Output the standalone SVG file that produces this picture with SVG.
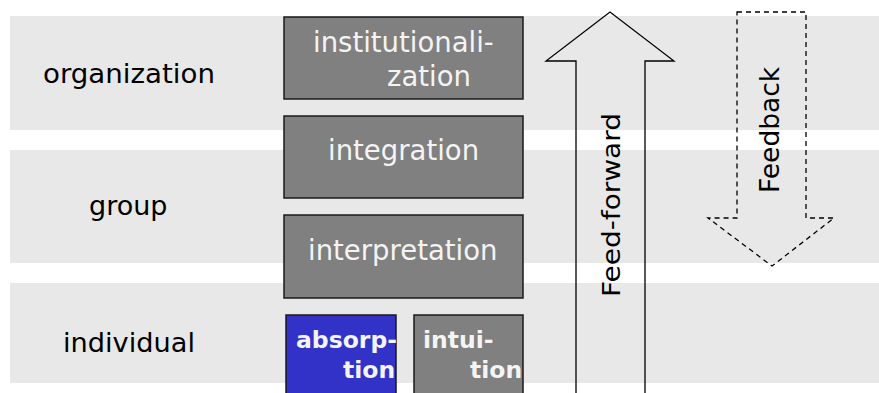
<svg xmlns="http://www.w3.org/2000/svg" width="879" height="393" viewBox="0 0 879 393">
<style>
.band{fill:#e8e8e8}
.lbl{font-family:"DejaVu Sans",Verdana,sans-serif;font-size:27px;fill:#000}
.box{fill:#808080;stroke:#1a1a1a;stroke-width:1.5}
.bt{font-family:"DejaVu Sans",Verdana,sans-serif;font-size:27.5px;fill:#f4f4f4}
.bb{font-family:"DejaVu Sans",Verdana,sans-serif;font-size:23.5px;font-weight:bold;fill:#f4f4f4}
.arr{fill:none;stroke:#000;stroke-width:1.3}
.dash{fill:none;stroke:#000;stroke-width:1.3;stroke-dasharray:5,4}
.at{font-family:"DejaVu Sans",Verdana,sans-serif;font-size:25.5px;fill:#000}
</style>
<rect width="879" height="393" fill="#fff"/>
<g id="bands">
<rect class="band" x="10" y="16" width="869" height="114"/>
<rect class="band" x="10" y="150" width="869" height="113"/>
<rect class="band" x="10" y="283" width="869" height="100"/>
</g>
<g id="level-organization"><text class="lbl" x="43" y="83" textLength="172" lengthAdjust="spacingAndGlyphs">organization</text></g>
<g id="level-group"><text class="lbl" x="89" y="215">group</text></g>
<g id="level-individual"><text class="lbl" x="63" y="352" textLength="132" lengthAdjust="spacingAndGlyphs">individual</text></g>
<g id="institutionalization">
<rect class="box" x="284" y="17" width="239" height="82"/>
<text class="bt" x="313" y="52">institutionali-</text>
<text class="bt" x="387" y="86">zation</text>
</g>
<g id="integration">
<rect class="box" x="284" y="116" width="239" height="82"/>
<text class="bt" x="328" y="160">integration</text>
</g>
<g id="interpretation">
<rect class="box" x="284" y="215" width="239" height="83"/>
<text class="bt" x="308" y="260">interpretation</text>
</g>
<g id="absorption">
<rect class="box" x="286" y="315" width="110" height="90" style="fill:#3232c8"/>
<text class="bb" x="296" y="348">absorp-</text>
<text class="bb" x="343" y="378">tion</text>
</g>
<g id="intuition">
<rect class="box" x="414" y="315" width="109" height="90"/>
<text class="bb" x="423" y="348">intui-</text>
<text class="bb" x="470" y="378">tion</text>
</g>
<g id="connectors">
<g id="feed-forward">
<path class="arr" d="M576,400 L576,61 L546,61 L610,12 L674,61 L645,61 L645,400"/>
<text class="at" transform="translate(620,297) rotate(-90)" textLength="184" lengthAdjust="spacingAndGlyphs">Feed-forward</text>
</g>
<g id="feedback">
<path class="dash" d="M737,12 L806,12 L806,218 L834,218 L772,266 L708,218 L737,218 Z"/>
<text class="at" transform="translate(779,193) rotate(-90)" style="font-size:26.5px">Feedback</text>
</g>
</g>
</svg>
